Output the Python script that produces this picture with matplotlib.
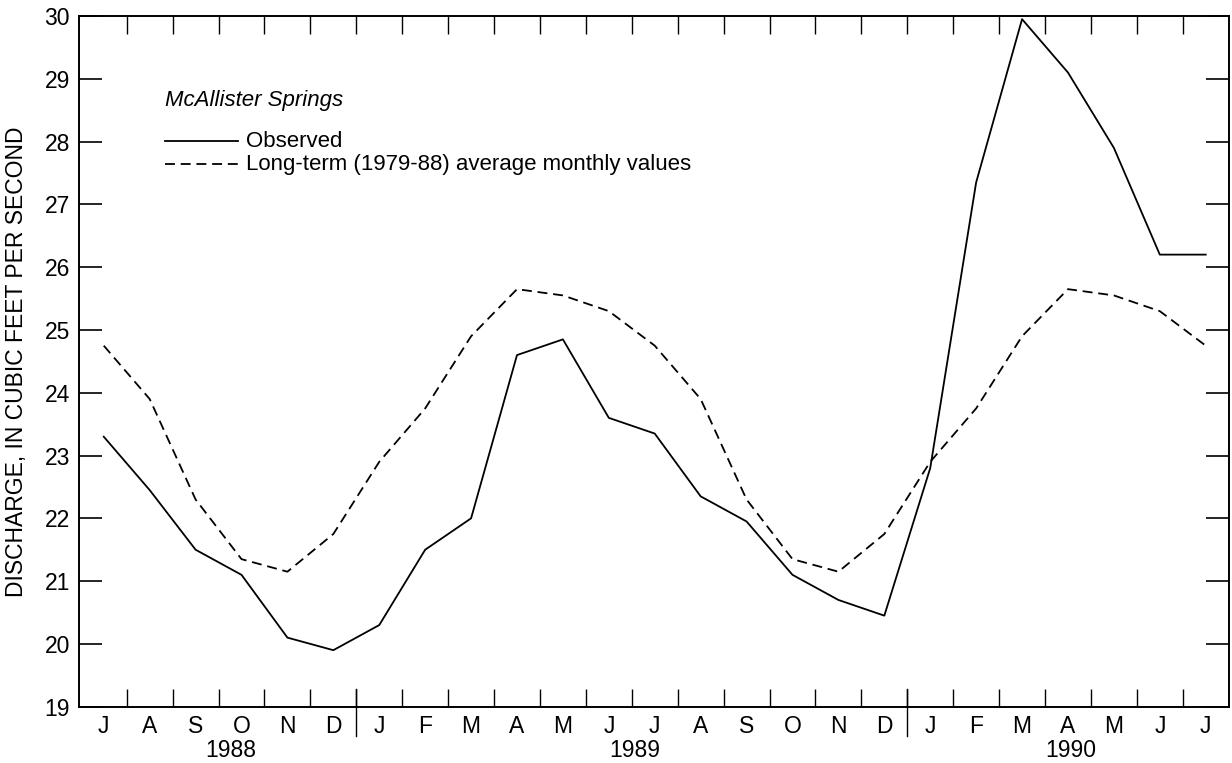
import numpy as np
import matplotlib.pyplot as plt
import matplotlib.transforms as mtransforms

plt.rcParams['font.family'] = ['Liberation Sans', 'DejaVu Sans']

months = ['J', 'A', 'S', 'O', 'N', 'D',
          'J', 'F', 'M', 'A', 'M', 'J', 'J', 'A', 'S', 'O', 'N', 'D',
          'J', 'F', 'M', 'A', 'M', 'J', 'J']
years = ['1988', '1989', '1990']

observed = [23.3, 22.45, 21.5, 21.1, 20.1, 19.9,
            20.3, 21.5, 22.0, 24.6, 24.85, 23.6, 23.35, 22.35, 21.95, 21.1, 20.7, 20.45,
            22.8, 27.35, 29.95, 29.1, 27.9, 26.2, 26.2]
longterm = [24.75, 23.9, 22.3, 21.35, 21.15, 21.75,
            22.9, 23.75, 24.9, 25.65, 25.55, 25.3, 24.75, 23.9, 22.3, 21.35, 21.15, 21.75,
            22.9, 23.75, 24.9, 25.65, 25.55, 25.3, 24.75]

x = np.arange(len(months))
dash = (5.5, 3.2)

fig = plt.figure(figsize=(12.32, 7.63), dpi=100)
ax = fig.add_axes([0.0641, 0.0738, 0.9332, 0.9052])

ax.plot(x, observed, color='black', lw=1.3)
ax.plot(x, longterm, color='black', lw=1.3, dashes=dash)

ax.set_xlim(-0.54, 24.5)
ax.set_ylim(19, 30)

# month boundaries as ticks, month names centred between them
ax.set_xticks(np.arange(len(months) - 1) + 0.5)
ax.set_xticklabels([])
ax.set_xticks(x, minor=True)
ax.set_xticklabels(months, minor=True)
ax.tick_params(axis='x', which='major', direction='in', length=13, width=1,
               top=True, bottom=True)
ax.tick_params(axis='x', which='minor', length=0, pad=6, labelsize=16.5)

ax.set_yticks(np.arange(19, 31))
ax.tick_params(axis='y', direction='in', length=16.5, width=1.2,
               left=True, right=True, pad=6.5, labelsize=16.5)

for s in ax.spines.values():
    s.set_linewidth(1.4)

trans = mtransforms.blended_transform_factory(ax.transData, ax.transAxes)
for xd in [5.5, 17.5]:
    ax.plot([xd, xd], [-0.043, 0.025], color='black', lw=1,
            transform=trans, clip_on=False)

for xy, yr in zip([2.77, 11.57, 21.07], years):
    ax.text(xy, -0.063, yr, transform=trans, ha='center', va='center', fontsize=16.5)

ax.set_ylabel('DISCHARGE, IN CUBIC FEET PER SECOND', fontsize=16.5)
ax.yaxis.set_label_coords(-0.0444, 0.5)

# key, drawn in axes fractions
ax.text(0.0748, 0.878, 'McAllister Springs', transform=ax.transAxes,
        fontsize=16, style='italic', va='center')
ax.plot([0.0748, 0.1383], [0.819, 0.819], color='black', lw=1.3,
        transform=ax.transAxes)
ax.text(0.1455, 0.819, 'Observed', transform=ax.transAxes,
        fontsize=16, va='center')
ax.plot([0.0748, 0.1383], [0.7857, 0.7857], color='black', lw=1.3,
        dashes=dash, transform=ax.transAxes)
ax.text(0.1455, 0.7857, 'Long-term (1979-88) average monthly values',
        transform=ax.transAxes, fontsize=16, va='center')

fig.savefig('out.png', dpi=100)
